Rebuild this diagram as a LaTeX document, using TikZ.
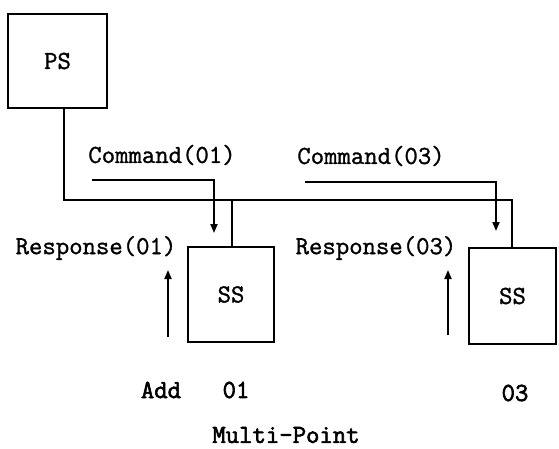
\documentclass[tikz,border=0pt]{standalone}
\usepackage{fontspec}
\newfontfamily\tyfont{Latin Modern Mono}[FakeBold=1.2]
\newfontfamily\tybfont{Latin Modern Mono}[FakeBold=2.4]
\usetikzlibrary{arrows.meta}
\begin{document}
\begin{tikzpicture}[x=1pt,y=-1pt,
  line width=1.8pt,
  txt/.style={font=\tyfont\fontsize{26}{28}\selectfont, inner sep=0pt},
  btxt/.style={font=\tybfont\fontsize{26}{28}\selectfont, inner sep=0pt},
  box/.style={draw, line width=1.8pt, inner sep=0pt, font=\tyfont\fontsize{26}{28}\selectfont},
  arr/.style={-{Triangle[length=9pt,width=7pt]}, line width=1.8pt}]
\useasboundingbox (0,0) rectangle (559,449);
% boxes
\node[box, minimum width=99pt, minimum height=94pt] (PS) at (57.5,61) {PS};
\node[box, minimum width=86pt, minimum height=95pt] (SS1) at (231,294.5) {SS};
\node[box, minimum width=87pt, minimum height=96pt] (SS2) at (512.5,296) {SS};
% helper coordinates
\coordinate (x64) at (64,0);
\coordinate (x512) at (512,0);
\coordinate (j1) at (232,200);
% bus
\draw (PS.south -| x64) |- (j1) -| (SS2.north -| x512);
\draw (j1) -- (SS1.north -| j1);
% command arrows
\coordinate (c1s) at (92,180);
\coordinate (c1e) at (214,233);
\draw[arr] (c1s) -| (c1e);
\coordinate (c3s) at (305,182);
\coordinate (c3e) at (496,231);
\draw[arr] (c3s) -| (c3e);
% response arrows
\coordinate (r1s) at (168,337);
\coordinate (r1e) at (168,270);
\draw[arr] (r1s) -- (r1e);
\coordinate (r3s) at (448,335);
\coordinate (r3e) at (448,270);
\draw[arr] (r3s) -- (r3e);
% labels
\node[txt] (cmd1) at (162,155) {Command(01)};
\node[txt] (cmd3) at (371,156) {Command(03)};
\node[txt] (rsp1) at (96,248) {Response(01)};
\node[txt] (rsp3) at (376,248) {Response(03)};
\node[btxt] (add) at (161,390) {Add};
\node[btxt] (a01) at (236,390) {01};
\node[btxt] (a03) at (515,393) {03};
\node[btxt] (mp) at (286,435) {Multi-Point};
\end{tikzpicture}
\end{document}
